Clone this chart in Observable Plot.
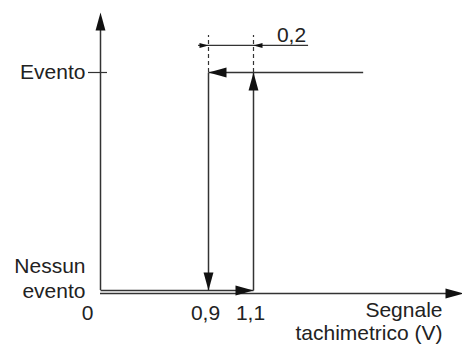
<!DOCTYPE html>
<html>
<head>
<meta charset="utf-8">
<script src="https://cdn.jsdelivr.net/npm/d3@7"></script>
<script src="https://cdn.jsdelivr.net/npm/@observablehq/plot@0.6"></script>
<style>
  html, body { margin: 0; padding: 0; background: #fff; }
  #chart svg { display: block; }
</style>
</head>
<body>
<div id="chart"></div>
<script>
// ---- data ----
const levels = [0, 1];                       // output states
const levelLabels = ["Nessun\nevento", "Evento"];
const xTicks = [0, 0.9, 1.1];                // signal thresholds (V)
const xTickLabels = ["0", "0,9", "1,1"];
const xTitle = "Segnale\ntachimetrico (V)";
const hysteresisLabel = "0,2";
const hysteresisMid = 1.263;                 // where "0,2" is written
// hysteresis path segments (start -> end)
const pathX1 = [0, 1.1, 1.57, 0.9];
const pathY1 = [0, 0, 1, 1];
const pathX2 = [1.1, 1.1, 0.9, 0.9];
const pathY2 = [0, 1, 1, 0];
// axes extents
const axisXMax = 2.0;
const axisYMax = 1.275;
// dimension line extents
const dimY = 1.124;
const dimTop = 1.17;
const dimX = [0.817, 1.336];

// ---- styling ----
const ink = "#333";
const font = "Liberation Sans, Arial, Helvetica, sans-serif";

// the drawing is not to scale: the 0..0.9 stretch is compressed
const warp = d3.scaleLinear().domain([0, 0.9, 1.1, axisXMax]).range([0, 108, 153, 363]);

const arrowHead = {
  draw(context, size) {
    const r = Math.sqrt(size / Math.PI);
    const L = 2 * r, w = 0.55 * r;
    context.moveTo(0, 0);
    context.lineTo(-w, L);
    context.lineTo(w, L);
    context.closePath();
  }
};

const segs = pathX1.map((x1, i) => ({x1, y1: pathY1[i], x2: pathX2[i], y2: pathY2[i]}));
const angle = d => Math.atan2(d.x2 - d.x1, d.y2 - d.y1) * 180 / Math.PI;

const chart = Plot.plot({
  width: 462,
  height: 345,
  margin: 0,
  style: {fontFamily: font, fontSize: "21px", color: "#222", background: "#fff"},
  x: {type: "linear", transform: warp, domain: [0, 363], range: [100, 463], axis: null},
  y: {domain: [0, 1], range: [290, 72], axis: null},
  marks: [
    // y axis
    Plot.ruleX([0], {y1: 0, y2: axisYMax - 0.05, stroke: ink, strokeWidth: 1.5, insetBottom: -3}),
    Plot.dot([0], {x: 0, y: axisYMax, r: 9, symbol: arrowHead, fill: "#111", stroke: null}),
    // x axis
    Plot.ruleY([0], {x1: 0, x2: axisXMax - 0.03, stroke: ink, strokeWidth: 1.5, dy: 3}),
    Plot.dot([0], {x: axisXMax, y: 0, dy: 3, r: 9, rotate: 90, symbol: arrowHead, fill: "#111", stroke: null}),
    // "Evento" tick
    Plot.ruleY([levels[1]], {x1: 0, x2: 0, insetLeft: -12, insetRight: -7, stroke: ink, strokeWidth: 1.2}),
    // hysteresis path
    Plot.link(segs, {x1: "x1", y1: "y1", x2: "x2", y2: "y2", stroke: ink, strokeWidth: 1.5}),
    Plot.dot(segs, {x: "x2", y: "y2", r: 9, rotate: angle, symbol: arrowHead, fill: "#111", stroke: null}),
    // dimension lines
    Plot.ruleX([xTicks[1], xTicks[2]], {y1: levels[1], y2: dimTop, stroke: ink, strokeWidth: 1.2, strokeDasharray: "4,3"}),
    Plot.ruleY([dimY], {x1: dimX[0], x2: dimX[1], stroke: ink, strokeWidth: 1.2}),
    Plot.dot([xTicks[1], xTicks[2]], {x: d => d, y: dimY, r: 4.5, rotate: (d, i) => i === 0 ? 90 : -90, symbol: arrowHead, fill: "#111", stroke: null}),
    Plot.text([hysteresisLabel], {x: hysteresisMid, y: dimTop, text: d => d, textAnchor: "middle", lineAnchor: "middle", fill: "#222"}),
    // y labels
    Plot.text([levelLabels[1]], {x: 0, y: levels[1], text: d => d, textAnchor: "end", lineAnchor: "middle", dx: -15, fill: "#222"}),
    Plot.text([levelLabels[0]], {x: 0, y: levels[0], text: d => d, textAnchor: "end", lineAnchor: "middle", lineHeight: 1.2, dx: -15, dy: -13, fill: "#222"}),
    // x tick labels
    Plot.text([xTickLabels[0]], {x: xTicks[0], y: 0, text: d => d, textAnchor: "middle", lineAnchor: "middle", dx: -13, dy: 23, fill: "#222"}),
    Plot.text(xTicks.slice(1), {x: d => d, y: 0, text: (d, i) => xTickLabels[i + 1], textAnchor: "middle", lineAnchor: "middle", dx: -3, dy: 23, fill: "#222"}),
    // x title
    Plot.text([xTitle], {x: axisXMax, y: 0, text: d => d, textAnchor: "end", lineAnchor: "middle", lineHeight: 1.1, dx: -21, dy: 31, fill: "#222"})
  ]
});
document.getElementById("chart").appendChild(chart);
</script>
</body>
</html>
